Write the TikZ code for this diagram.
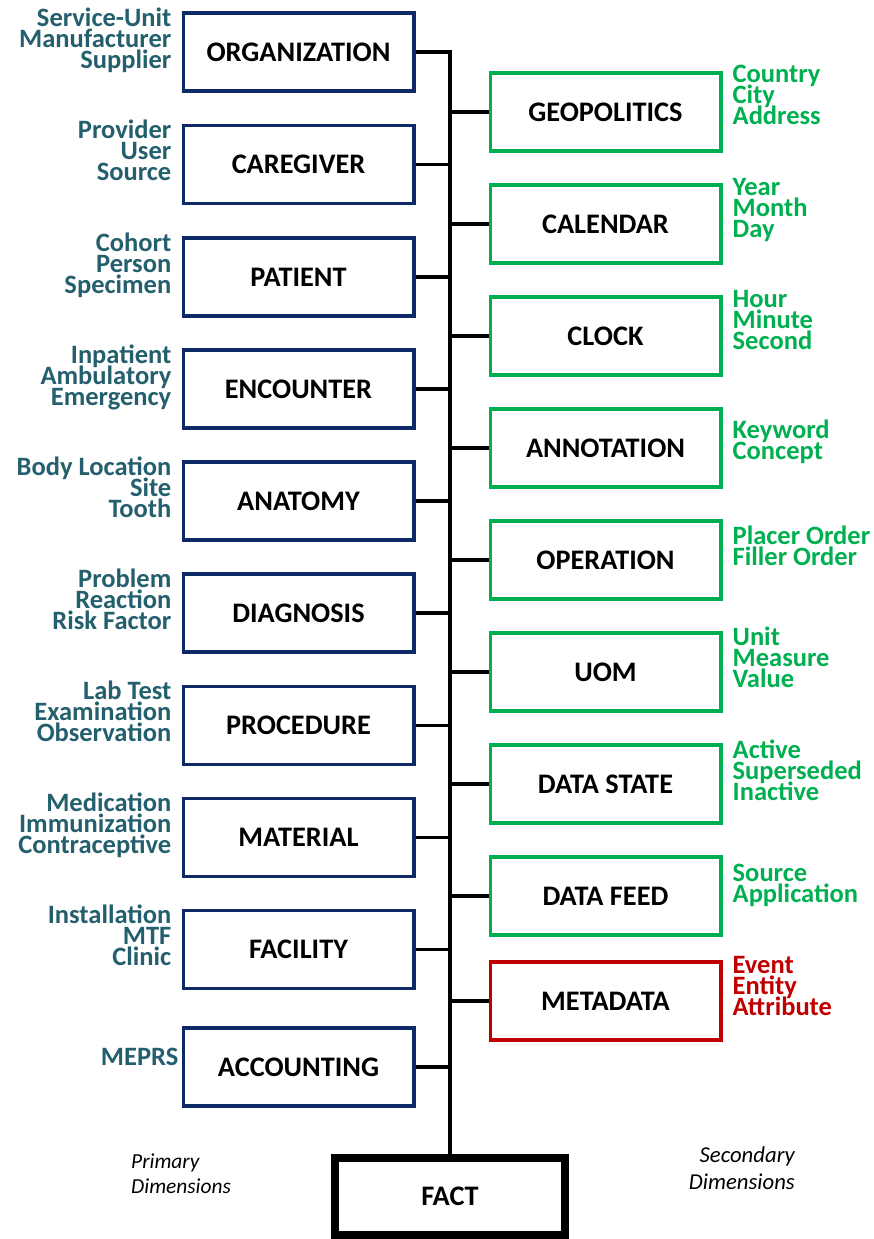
\documentclass[tikz,border=0pt]{standalone}
\usepackage{fontspec}
\setmainfont{Carlito}
\usetikzlibrary{positioning}

\definecolor{primblue}{HTML}{0E2A66}
\definecolor{primtext}{HTML}{245F6E}
\definecolor{secgreen}{HTML}{00B050}
\definecolor{metared}{HTML}{C00000}

% keep the fixed line spacing of the note lists
\newcommand{\tightlines}{\lineskiplimit=-50pt\relax}

\tikzset{
    dimbox/.style={draw, line width=3.5pt, minimum width=230.5pt, minimum height=78pt,
        inner sep=0pt, font=\fontsize{28.3}{30}\selectfont\bfseries},
    primbox/.style={dimbox, draw=primblue},
    secbox/.style={dimbox, draw=secgreen},
    metabox/.style={dimbox, draw=metared},
    factbox/.style={dimbox, draw=black, line width=8pt, minimum width=230pt, minimum height=77pt},
    notetext/.style={inner sep=0pt, font=\fontsize{26.5}{21}\selectfont\bfseries\tightlines},
    leftnote/.style={notetext, anchor=north east, align=right, text=primtext},
    secnote/.style={notetext, anchor=north west, align=left, text=secgreen},
    metanote/.style={notetext, anchor=north west, align=left, text=metared},
    dimlabel/.style={inner sep=0pt, font=\fontsize{21.4}{25}\selectfont\itshape\tightlines},
    link/.style={line width=3.2pt, line join=miter}
}

\begin{document}
\begin{tikzpicture}[x=1pt,y=-1pt]

    % Fix the page size
    \useasboundingbox (0,0) rectangle (874,1239);

    % Draw the primary dimension boxes (left column)
    \node[primbox] (org) at (298.5,52) {ORGANIZATION};
    \node[primbox] (care) at (298.5,164.5) {CAREGIVER};
    \node[primbox] (pat) at (298.5,277) {PATIENT};
    \node[primbox] (enc) at (298.5,389) {ENCOUNTER};
    \node[primbox] (ana) at (298.5,501) {ANATOMY};
    \node[primbox] (diag) at (298.5,613) {DIAGNOSIS};
    \node[primbox] (proc) at (298.5,725.5) {PROCEDURE};
    \node[primbox] (mat) at (298.5,837.5) {MATERIAL};
    \node[primbox] (fac) at (298.5,949.5) {FACILITY};
    \node[primbox] (acct) at (298.5,1067) {ACCOUNTING};

    % Draw the secondary dimension boxes (right column)
    \node[secbox] (geo) at (605.5,112) {GEOPOLITICS};
    \node[secbox] (cal) at (605.5,224) {CALENDAR};
    \node[secbox] (clock) at (605.5,336) {CLOCK};
    \node[secbox] (annot) at (605.5,448) {ANNOTATION};
    \node[secbox] (oper) at (605.5,560) {OPERATION};
    \node[secbox] (uom) at (605.5,672) {UOM};
    \node[secbox] (state) at (605.5,784) {DATA STATE};
    \node[secbox] (feed) at (605.5,896) {DATA FEED};
    \node[metabox] (meta) at (605.5,1001) {METADATA};

    % Draw the fact box
    \node[factbox] (fact) at (450,1196.5) {FACT};

    % Draw the trunk from ORGANIZATION down to FACT
    \draw[link] (org.east) -| (fact.north);

    % Connect the other boxes to the trunk
    \draw[link] (care.east) -- (care.east -| fact.north);
    \draw[link] (pat.east) -- (pat.east -| fact.north);
    \draw[link] (enc.east) -- (enc.east -| fact.north);
    \draw[link] (ana.east) -- (ana.east -| fact.north);
    \draw[link] (diag.east) -- (diag.east -| fact.north);
    \draw[link] (proc.east) -- (proc.east -| fact.north);
    \draw[link] (mat.east) -- (mat.east -| fact.north);
    \draw[link] (fac.east) -- (fac.east -| fact.north);
    \draw[link] (acct.east) -- (acct.east -| fact.north);
    \draw[link] (geo.west) -- (geo.west -| fact.north);
    \draw[link] (cal.west) -- (cal.west -| fact.north);
    \draw[link] (clock.west) -- (clock.west -| fact.north);
    \draw[link] (annot.west) -- (annot.west -| fact.north);
    \draw[link] (oper.west) -- (oper.west -| fact.north);
    \draw[link] (uom.west) -- (uom.west -| fact.north);
    \draw[link] (state.west) -- (state.west -| fact.north);
    \draw[link] (feed.west) -- (feed.west -| fact.north);
    \draw[link] (meta.west) -- (meta.west -| fact.north);

    % Label the primary dimensions
    \node[leftnote] (orgnote) at ([xshift=-10pt,yshift=4pt]org.north west) {Service-Unit\\Manufacturer\\Supplier};
    \node[leftnote] (carenote) at ([xshift=-10pt,yshift=4pt]care.north west) {Provider\\User\\Source};
    \node[leftnote] (patnote) at ([xshift=-10pt,yshift=4pt]pat.north west) {Cohort\\Person\\Specimen};
    \node[leftnote] (encnote) at ([xshift=-10pt,yshift=4pt]enc.north west) {Inpatient\\Ambulatory\\Emergency};
    \node[leftnote] (ananote) at ([xshift=-10pt,yshift=4pt]ana.north west) {Body Location\\Site\\Tooth};
    \node[leftnote] (diagnote) at ([xshift=-10pt,yshift=4pt]diag.north west) {Problem\\Reaction\\Risk Factor};
    \node[leftnote] (procnote) at ([xshift=-10pt,yshift=4pt]proc.north west) {Lab Test\\Examination\\Observation};
    \node[leftnote] (matnote) at ([xshift=-10pt,yshift=4pt]mat.north west) {Medication\\Immunization\\Contraceptive};
    \node[leftnote] (facnote) at ([xshift=-10pt,yshift=4pt]fac.north west) {Installation\\MTF\\Clinic};
    \node[leftnote] (acctnote) at ([xshift=-3pt,yshift=-22pt]acct.north west) {MEPRS};

    % Label the secondary dimensions
    \node[secnote] (geonote) at ([xshift=10pt,yshift=6pt]geo.north east) {Country\\City\\Address};
    \node[secnote] (calnote) at ([xshift=10pt,yshift=5pt]cal.north east) {Year\\Month\\Day};
    \node[secnote] (clocknote) at ([xshift=10pt,yshift=5pt]clock.north east) {Hour\\Minute\\Second};
    \node[secnote] (annotnote) at ([xshift=10pt,yshift=-12pt]annot.north east) {Keyword\\Concept};
    \node[secnote] (opernote) at ([xshift=10pt,yshift=-6.5pt]oper.north east) {Placer Order\\Filler Order};
    \node[secnote] (uomnote) at ([xshift=10pt,yshift=5pt]uom.north east) {Unit\\Measure\\Value};
    \node[secnote] (statenote) at ([xshift=10pt,yshift=4pt]state.north east) {Active\\Superseded\\Inactive};
    \node[secnote] (feednote) at ([xshift=10pt,yshift=-9pt]feed.north east) {Source\\Application};
    \node[metanote] (metanote) at ([xshift=10pt,yshift=4pt]meta.north east) {Event\\Entity\\Attribute};

    % Column captions
    \node[dimlabel, anchor=north west, align=left] (primlabel) at (131,1154) {Primary\\Dimensions};
    \node[dimlabel, anchor=north east, align=right, font=\fontsize{22.7}{27}\selectfont\itshape\tightlines] (seclabel) at (795,1147) {Secondary\\Dimensions};

\end{tikzpicture}
\end{document}
